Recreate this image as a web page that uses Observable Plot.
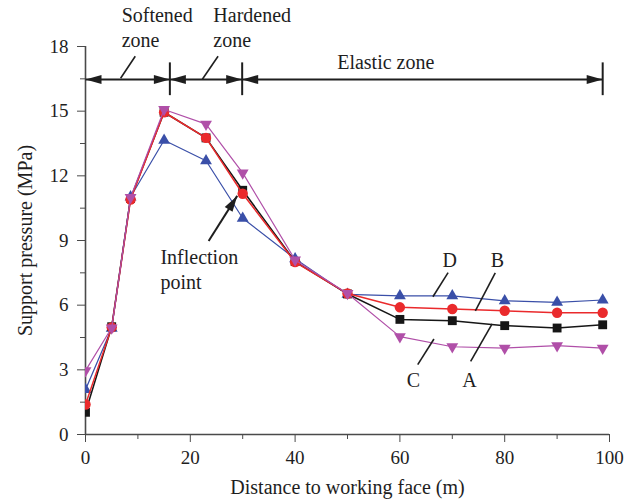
<!DOCTYPE html>
<html>
<head>
<meta charset="utf-8">
<script src="https://cdn.jsdelivr.net/npm/d3@7"></script>
<script src="https://cdn.jsdelivr.net/npm/@observablehq/plot@0.6"></script>
<style>
  html, body { margin: 0; padding: 0; background: #fff; }
  #chart svg { display: block; }
</style>
</head>
<body>
<div id="chart"></div>
<script>
// Distance to working face (m) of each monitoring point
const distance = [0, 5, 8.6, 15, 23, 30, 40, 50, 60, 70, 80, 90, 98.7];

// Support pressure (MPa) for the four cases
const seriesA = [1.03, 5.0, 10.95, 14.95, 13.76, 11.33, 8.02, 6.52, 5.34, 5.28, 5.05, 4.94, 5.09];
const seriesB = [1.39, 4.97, 10.9, 14.95, 13.76, 11.17, 8.0, 6.54, 5.9, 5.82, 5.74, 5.65, 5.65];
const seriesC = [2.96, 4.95, 11.0, 15.08, 14.4, 12.14, 8.1, 6.54, 4.54, 4.07, 4.01, 4.12, 4.01];
const seriesD = [2.08, 4.93, 11.02, 13.65, 12.7, 10.03, 8.15, 6.5, 6.43, 6.43, 6.2, 6.13, 6.24];

// Axis ticks
const xTicks = [0, 20, 40, 60, 80, 100];
const xMinorTicks = [10, 30, 50, 70, 90];
const yTicks = [0, 3, 6, 9, 12, 15, 18];
const yMinorTicks = [1.5, 4.5, 7.5, 10.5, 13.5, 16.5];

// Zone boundaries along the distance axis
const zoneBounds = [0, 16.1, 29.9, 98.7];

// ---- layout ----
const W = 634, H = 504;
const M = {top: 46, right: 25, bottom: 70, left: 85};
const xDomain = [0, 100], yDomain = [0, 18];
const kx = (W - M.left - M.right) / (xDomain[1] - xDomain[0]);
const ky = (H - M.top - M.bottom) / (yDomain[1] - yDomain[0]);

const FONT = "'Liberation Serif', 'Times New Roman', serif";
const INK = "#1e1e1e";
const AXIS = "#4a4a4a";

const colors = {A: "#161616", B: "#ea2a2c", C: "#b04fa8", D: "#3a4fa8"};

const rows = (name, values) => distance.map((x, i) => ({x, y: values[i], s: name}));
const dataA = rows("A", seriesA);
const dataB = rows("B", seriesB);
const dataC = rows("C", seriesC);
const dataD = rows("D", seriesD);

// Slim filled arrowhead, tip at the origin, pointing along +x
const headLen = 16, headHalf = 4.6;
const arrowHead = {
  draw(ctx) {
    ctx.moveTo(0, 0);
    ctx.lineTo(-headLen, -headHalf);
    ctx.lineTo(-headLen, headHalf);
    ctx.closePath();
  }
};

// Zone dimension line
const zoneLevel = 16.47;
const zoneSegments = zoneBounds.slice(1).map((b, i) => ({x1: zoneBounds[i], x2: b}));
const zoneHeads = zoneSegments.flatMap(s => [{x: s.x1, rot: 180}, {x: s.x2, rot: 0}]);
const zoneBars = zoneBounds.slice(1);

// Leader lines (data units)
const leaders = [
  {x1: 6.7, y1: 16.53, x2: 9.5, y2: 17.55},
  {x1: 22.3, y1: 16.48, x2: 25.3, y2: 17.55},
  {x1: 69.2, y1: 7.51, x2: 66.3, y2: 6.39},
  {x1: 78.2, y1: 7.5, x2: 74.4, y2: 5.74},
  {x1: 63.4, y1: 3.24, x2: 66.5, y2: 4.43},
  {x1: 73.5, y1: 3.39, x2: 77.6, y2: 5.13}
];

// Zone labels and series labels
const leftNotes = [
  {x: 6.9, y: 19.15, t: "Softened"},
  {x: 6.9, y: 18.0, t: "zone"},
  {x: 24.4, y: 19.15, t: "Hardened"},
  {x: 24.4, y: 18.0, t: "zone"},
  {x: 14.3, y: 7.92, t: "Inflection"},
  {x: 14.3, y: 6.76, t: "point"}
];
const midNotes = [
  {x: 57.3, y: 16.94, t: "Elastic zone"},
  {x: 69.5, y: 7.78, t: "D"},
  {x: 78.6, y: 7.78, t: "B"},
  {x: 62.6, y: 2.19, t: "C"},
  {x: 73.3, y: 2.19, t: "A"}
];

// Inflection point arrow
const inflArrow = {x1: 23.5, y1: 8.98, x2: 28.95, y2: 11.07};
const inflAngle = Math.atan2(-(inflArrow.y2 - inflArrow.y1) * ky, (inflArrow.x2 - inflArrow.x1) * kx) * 180 / Math.PI;

const seriesMarks = (data, color, width, dotOpts) => [
  Plot.line(data, {x: "x", y: "y", stroke: color, strokeWidth: width, clip: true}),
  Plot.dot(data, {x: "x", y: "y", fill: color, stroke: "none", clip: true, ...dotOpts})
];

const chart = Plot.plot({
  width: W,
  height: H,
  marginTop: M.top,
  marginRight: M.right,
  marginBottom: M.bottom,
  marginLeft: M.left,
  x: {domain: xDomain},
  y: {domain: yDomain},
  style: {fontFamily: FONT, fontSize: "19px", color: INK, background: "#fff"},
  marks: [
    // axes
    Plot.axisX({ticks: xTicks, tickSize: 8, tickPadding: 8, stroke: AXIS, fill: INK, fontSize: 19, label: null}),
    Plot.axisX({ticks: xMinorTicks, tickSize: 5, stroke: AXIS, fill: "none", label: null}),
    Plot.axisY({ticks: yTicks, tickSize: 8, tickPadding: 9, stroke: AXIS, fill: INK, fontSize: 19, label: null}),
    Plot.axisY({ticks: yMinorTicks, tickSize: 5, stroke: AXIS, fill: "none", label: null}),
    Plot.ruleX([0], {stroke: AXIS, strokeWidth: 1.6}),
    Plot.ruleY([0], {stroke: AXIS, strokeWidth: 1.6}),

    // axis titles
    Plot.text(["Distance to working face (m)"], {text: d => d, frameAnchor: "bottom", textAnchor: "middle", dy: 59, lineAnchor: "bottom", fontSize: 20, fill: INK}),
    Plot.text(["Support pressure (MPa)"], {text: d => d, frameAnchor: "left", textAnchor: "middle", dx: -60, rotate: -90, lineAnchor: "middle", fontSize: 20, fill: INK}),

    // series
    ...seriesMarks(dataD, colors.D, 1.2, {symbol: "triangle", r: 4.4}),
    ...seriesMarks(dataA, colors.A, 1.5, {symbol: "square", r: 5}),
    ...seriesMarks(dataB, colors.B, 1.5, {symbol: "circle", r: 5.2}),
    ...seriesMarks(dataC, colors.C, 1.2, {symbol: "triangle", r: 4.4, rotate: 180}),

    // zone dimension line
    Plot.link(zoneSegments, {x1: "x1", x2: "x2", y1: zoneLevel, y2: zoneLevel, stroke: INK, strokeWidth: 2}),
    Plot.dot(zoneHeads, {x: "x", y: zoneLevel, symbol: arrowHead, rotate: "rot", fill: INK, stroke: "none", r: 5}),
    Plot.ruleX(zoneBars, {y1: 15.72, y2: 17.24, stroke: INK, strokeWidth: 2}),

    // leaders
    Plot.link(leaders, {x1: "x1", y1: "y1", x2: "x2", y2: "y2", stroke: INK, strokeWidth: 1.6}),

    // inflection arrow
    Plot.link([inflArrow], {x1: "x1", y1: "y1", x2: "x2", y2: "y2", stroke: INK, strokeWidth: 2}),
    Plot.dot([inflArrow], {x: "x2", y: "y2", symbol: arrowHead, rotate: inflAngle, fill: INK, stroke: "none", r: 5}),

    // annotation text
    Plot.text(leftNotes, {x: "x", y: "y", text: "t", textAnchor: "start", lineAnchor: "bottom", fontSize: 20, fill: INK}),
    Plot.text(midNotes, {x: "x", y: "y", text: "t", textAnchor: "middle", lineAnchor: "bottom", fontSize: 20, fill: INK})
  ]
});

document.getElementById("chart").appendChild(chart);
</script>
</body>
</html>
